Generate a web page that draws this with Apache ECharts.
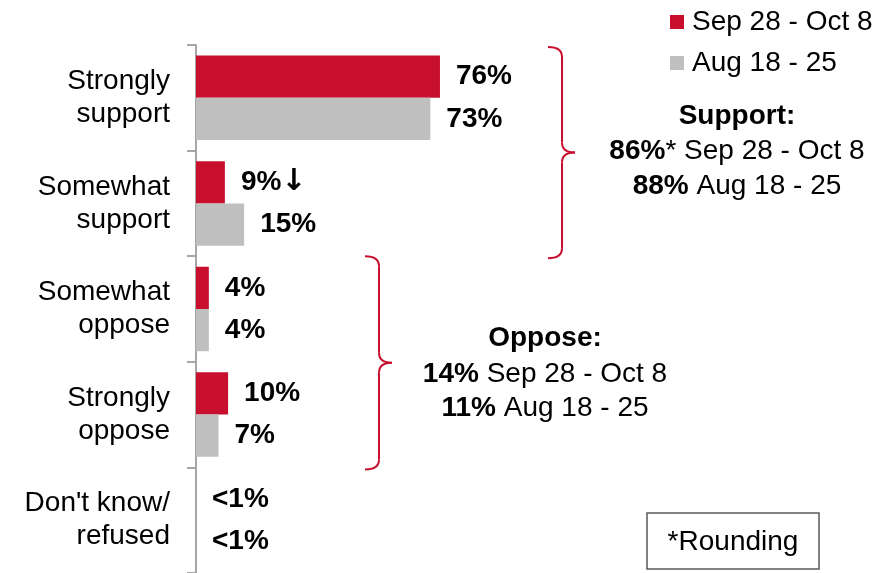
<!DOCTYPE html>
<html>
<head>
<meta charset="utf-8">
<script src="https://cdn.jsdelivr.net/npm/echarts@6/dist/echarts.min.js"></script>
<style>
html, body { margin: 0; padding: 0; background: #fff; }
#chart { width: 877px; height: 573px; }
</style>
</head>
<body>
<div id="chart"></div>
<script>
var categories = ['Strongly\nsupport', 'Somewhat\nsupport', 'Somewhat\noppose', 'Strongly\noppose', "Don't know/\nrefused"];
var seriesNames = ['Sep 28 - Oct 8', 'Aug 18 - 25'];
var sepOct = [76, 9, 4, 10, 0];
var aug = [73, 15, 4, 7, 0];
var sepOctLabels = ['76%', '9%', '4%', '10%', '<1%'];
var augLabels = ['73%', '15%', '4%', '7%', '<1%'];
// significant drop marker
var sepOctDown = [false, true, false, false, false];
var supportNet = ['86%', '88%'];
var opposeNet = ['14%', '11%'];

var FONT = 'Liberation Sans, Arial, sans-serif';
var RED = '#C8102E';
var GREY = '#BFBFBF';

var chart = echarts.init(document.getElementById('chart'));

function barLabel(texts, down) {
	return {
		show: true,
		position: 'right',
		distance: 16,
		fontFamily: FONT,
		fontSize: 28,
		fontWeight: 'bold',
		color: '#000',
		formatter: function(p) {
			var s = texts[p.dataIndex];
			if (down && down[p.dataIndex]) {
				s += '{a|\u2193}';
			}
			return s;
		},
		rich: {
			a: {
				fontFamily: 'DejaVu Sans',
				fontWeight: 'bold',
				fontSize: 30,
				color: '#000'
			}
		}
	};
}

chart.setOption({
	animation: false,
	legend: {
		orient: 'vertical',
		left: 670,
		top: 8,
		padding: 0,
		itemWidth: 14,
		itemHeight: 14,
		itemGap: 13,
		icon: 'rect',
		data: seriesNames,
		textStyle: {
			fontFamily: FONT,
			fontSize: 28,
			color: '#000',
			padding: [0, 0, 0, 3]
		}
	},
	grid: {
		left: 196,
		top: 45,
		width: 321,
		height: 531
	},
	xAxis: {
		type: 'value',
		min: 0,
		max: 100,
		show: false
	},
	yAxis: {
		type: 'category',
		inverse: true,
		data: categories,
		axisLine: { show: true, lineStyle: { color: '#A6A6A6', width: 2 } },
		axisTick: { show: true, inside: false, alignWithLabel: false, length: 9, lineStyle: { color: '#A6A6A6', width: 2 } },
		axisLabel: {
			margin: 26,
			fontFamily: FONT,
			fontSize: 28,
			lineHeight: 33,
			color: '#000',
			align: 'right'
		}
	},
	series: [{
		name: seriesNames[0],
		type: 'bar',
		data: sepOct,
		itemStyle: { color: RED },
		barGap: 0,
		barCategoryGap: '20%',
		label: barLabel(sepOctLabels, sepOctDown)
	}, {
		name: seriesNames[1],
		type: 'bar',
		data: aug,
		itemStyle: { color: GREY },
		barGap: 0,
		barCategoryGap: '20%',
		label: barLabel(augLabels)
	}]
});

// braces and net totals, placed from the category axis
var band = chart.convertToPixel({ yAxisIndex: 0 }, 1) - chart.convertToPixel({ yAxisIndex: 0 }, 0);
function catTop(i) {
	return chart.convertToPixel({ yAxisIndex: 0 }, i) - band / 2;
}

var braceStyle = { fill: null, stroke: RED, lineWidth: 2 };

function curve(x1, y1, cx, cy, x2, y2) {
	return {
		type: 'bezierCurve',
		shape: { x1: x1, y1: y1, cpx1: cx, cpy1: cy, x2: x2, y2: y2 },
		style: braceStyle
	};
}

function seg(x1, y1, x2, y2) {
	return {
		type: 'line',
		shape: { x1: x1, y1: y1, x2: x2, y2: y2 },
		style: braceStyle
	};
}

function brace(x0, y0, y1) {
	var xl = x0 + 14, xt = x0 + 27, ym = (y0 + y1) / 2, r = 10;
	return {
		type: 'group',
		children: [
			curve(x0, y0, xl, y0, xl, y0 + r),
			seg(xl, y0 + r, xl, ym - r),
			curve(xl, ym - r, xl, ym, xt, ym),
			curve(xt, ym, xl, ym, xl, ym + r),
			seg(xl, ym + r, xl, y1 - r),
			curve(xl, y1 - r, xl, y1, x0, y1)
		]
	};
}

var rich = {
	b: { fontFamily: FONT, fontSize: 28, fontWeight: 'bold', fill: '#000' },
	n: { fontFamily: FONT, fontSize: 28, fill: '#000' }
};

function line(x, y, txt) {
	return {
		type: 'text',
		x: x,
		y: y,
		style: {
			text: txt,
			rich: rich,
			align: 'center',
			verticalAlign: 'middle'
		}
	};
}

var sTop = catTop(0) + 2, sBot = catTop(2) + 2;
var oTop = catTop(2), oBot = catTop(4) + 2;

chart.setOption({
	graphic: [
		brace(548, sTop, sBot),
		brace(365, oTop, oBot),
		line(737, 116, '{b|Support:}'),
		line(737, 151, '{b|' + supportNet[0] + '}{n|* ' + seriesNames[0] + '}'),
		line(737, 186, '{b|' + supportNet[1] + '}{n| ' + seriesNames[1] + '}'),
		line(545, 338, '{b|Oppose:}'),
		line(545, 374, '{b|' + opposeNet[0] + '}{n| ' + seriesNames[0] + '}'),
		line(545, 408, '{b|' + opposeNet[1] + '}{n| ' + seriesNames[1] + '}'),
		{
			type: 'rect',
			shape: { x: 647, y: 513, width: 172, height: 56 },
			style: { fill: '#fff', stroke: '#595959', lineWidth: 1.5 }
		},
		line(733, 542, '{n|*Rounding}')
	]
});
</script>
</body>
</html>
